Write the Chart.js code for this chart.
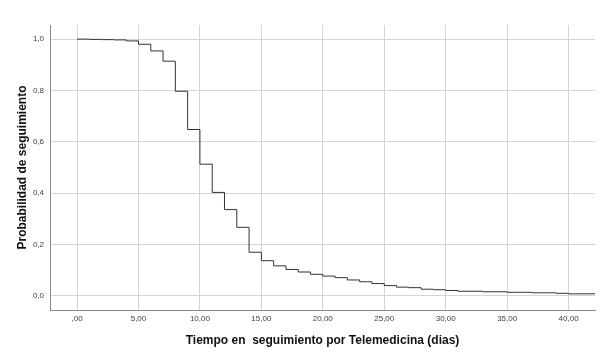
<!DOCTYPE html>
<html lang="es">
<head>
<meta charset="UTF-8">
<title>Probabilidad de seguimiento</title>
<script src="https://cdn.jsdelivr.net/npm/chart.js"></script>
<style>
  html, body { margin: 0; padding: 0; background: #ffffff; }
  #wrap { width: 604px; height: 357px; }
</style>
</head>
<body>
<div id="wrap"><canvas id="kmChart" width="604" height="357"></canvas></div>
<script>
// Tiempo (dias) y probabilidad de seguimiento (Kaplan-Meier)
var tiempos = [0, 1, 2, 3, 4, 5, 6, 7, 8, 9, 10, 11, 12, 13, 14, 15, 16, 17, 18, 19,
               20, 21, 22, 23, 24, 25, 26, 27, 28, 29, 30, 31, 33, 35, 37, 39, 40, 42.15];
var probabilidad = [1.000, 0.999, 0.998, 0.997, 0.993, 0.980, 0.954, 0.914, 0.797, 0.648,
                    0.513, 0.403, 0.336, 0.267, 0.170, 0.137, 0.117, 0.103, 0.093, 0.084,
                    0.077, 0.071, 0.062, 0.055, 0.048, 0.040, 0.034, 0.032, 0.026, 0.024,
                    0.021, 0.018, 0.016, 0.014, 0.012, 0.010, 0.008, 0.007];

var xTicks = [0, 5, 10, 15, 20, 25, 30, 35, 40];
var xTickLabels = [',00', '5,00', '10,00', '15,00', '20,00', '25,00', '30,00', '35,00', '40,00'];
var yTicks = [0, 0.2, 0.4, 0.6, 0.8, 1.0];
var yTickLabels = ['0,0', '0,2', '0,4', '0,6', '0,8', '1,0'];

var puntos = tiempos.map(function (t, i) {
    return { x: t, y: probabilidad[i] };
});

var gridColor = '#d4d4d4';
var axisColor = '#8a8a8a';
var tickFont = { family: 'Arial, "Liberation Sans", sans-serif', size: 8 };
var titleFont = { family: 'Arial, "Liberation Sans", sans-serif', size: 12, weight: 'bold' };

var ctx = document.getElementById('kmChart').getContext('2d');
var kmChart = new Chart(ctx, {
    type: 'line',
    data: {
        datasets: [{
            data: puntos,
            stepped: 'before',
            borderColor: '#333333',
            borderWidth: 1,
            pointRadius: 0,
            fill: false
        }]
    },
    options: {
        responsive: false,
        animation: false,
        layout: { padding: { top: 25, right: 9, bottom: 0, left: 0 } },
        plugins: {
            legend: { display: false },
            tooltip: { enabled: false }
        },
        scales: {
            x: {
                type: 'linear',
                min: -2.2,
                max: 42.15,
                afterBuildTicks: function (scale) {
                    scale.ticks = xTicks.map(function (v) { return { value: v }; });
                },
                afterFit: function (scale) { scale.height = 47; },
                ticks: {
                    font: tickFont,
                    color: '#3c3c3c',
                    padding: 4,
                    maxRotation: 0,
                    callback: function (value) {
                        var i = xTicks.indexOf(value);
                        return i >= 0 ? xTickLabels[i] : '';
                    }
                },
                grid: { color: gridColor, drawTicks: false },
                border: { display: true, color: axisColor, width: 1 },
                title: {
                    display: true,
                    text: 'Tiempo en  seguimiento por Telemedicina (dias)',
                    font: titleFont,
                    color: '#111111',
                    padding: { top: 0, bottom: 9 }
                }
            },
            y: {
                type: 'linear',
                min: -0.055,
                max: 1.055,
                afterBuildTicks: function (scale) {
                    scale.ticks = yTicks.map(function (v) { return { value: v }; });
                },
                afterFit: function (scale) { scale.width = 50; },
                ticks: {
                    font: tickFont,
                    color: '#3c3c3c',
                    padding: 6,
                    callback: function (value) {
                        for (var i = 0; i < yTicks.length; i++) {
                            if (Math.abs(yTicks[i] - value) < 1e-6) return yTickLabels[i];
                        }
                        return '';
                    }
                },
                grid: { color: gridColor, drawTicks: false },
                border: { display: true, color: axisColor, width: 1 },
                title: {
                    display: true,
                    text: 'Probabilidad de seguimiento',
                    font: titleFont,
                    color: '#111111',
                    padding: { top: 15, bottom: 0 }
                }
            }
        }
    }
});
</script>
</body>
</html>
